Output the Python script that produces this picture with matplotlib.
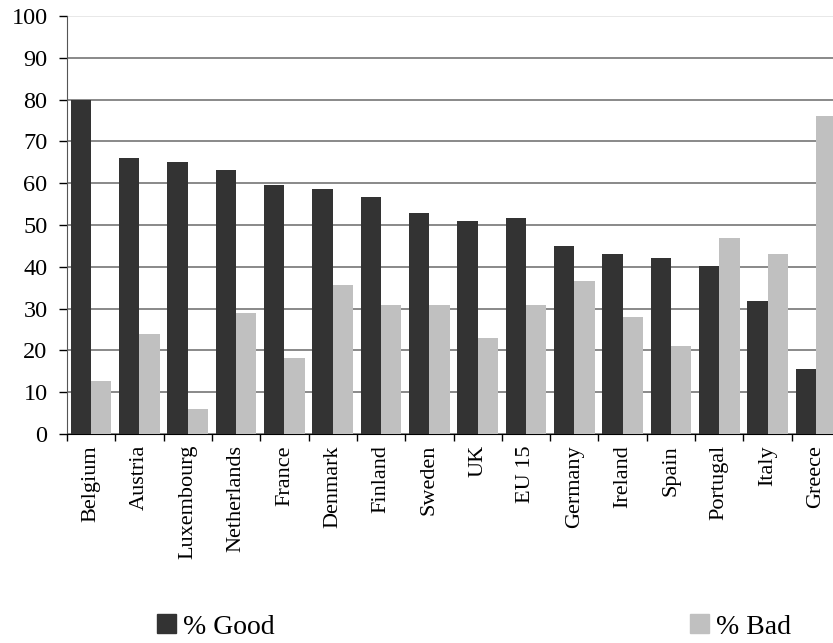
import numpy as np
import matplotlib.pyplot as plt
from matplotlib.patches import Patch

# data
countries = ["Belgium", "Austria", "Luxembourg", "Netherlands", "France", "Denmark",
             "Finland", "Sweden", "UK", "EU 15", "Germany", "Ireland", "Spain",
             "Portugal", "Italy", "Greece"]
good = [80.0, 66.0, 65.1, 63.2, 59.6, 58.6, 56.7, 52.9, 51.0, 51.7, 45.0, 43.1, 42.1, 40.2, 31.8, 15.6]
bad = [12.7, 23.9, 6.0, 28.9, 18.2, 35.6, 30.9, 30.9, 23.0, 30.9, 36.6, 28.0, 21.1, 46.9, 43.1, 76.1]
yticks = np.arange(0, 101, 10)

plt.rcParams['font.family'] = ['Liberation Serif', 'DejaVu Serif']

fig = plt.figure(figsize=(8.33, 6.43), dpi=100)
ax = fig.add_axes([67 / 833, 1 - 434 / 643, (840 - 67) / 833, 418 / 643])

x = np.arange(len(countries))
w = 0.42
ax.bar(x - w / 2, good, width=w, color='#333333', zorder=3)
ax.bar(x + w / 2, bad, width=w, color='#c0c0c0', zorder=3)

ax.set_ylim(0, 100)
ax.set_xlim(-0.5, len(countries) - 0.5)
ax.set_yticks(yticks)
ax.tick_params(axis='y', labelsize=17.5, direction='out', length=6, width=1, pad=8)
ax.yaxis.grid(True, color='#808080', linewidth=1.3, zorder=0)
ax.set_axisbelow(True)
ax.yaxis.get_gridlines()[-1].set_color('#e6e6e6')

ax.set_xticks(x)
ax.set_xticklabels(countries, rotation=90, fontsize=16, va='top', ha='center')
ax.set_xticks(np.arange(-0.5, len(countries), 1), minor=True)
ax.tick_params(axis='x', which='major', length=0, pad=8)
ax.tick_params(axis='x', which='minor', length=5, width=1, direction='out')

for s in ['top', 'right']:
    ax.spines[s].set_visible(False)
ax.spines['left'].set_color('#555555')
ax.spines['bottom'].set_color('#000000')

# two legend entries, placed apart like the original
for label, col, xpos in [("% Good", '#333333', 157), ("% Bad", '#c0c0c0', 690)]:
    fig.legend(handles=[Patch(color=col, label=label)], loc='center left',
               bbox_to_anchor=(xpos / 833, 1 - 627 / 643), frameon=False,
               fontsize=20, handlelength=0.68, handleheight=0.68,
               handletextpad=0.25, borderpad=0, borderaxespad=0)

fig.savefig("out.png", dpi=100)
